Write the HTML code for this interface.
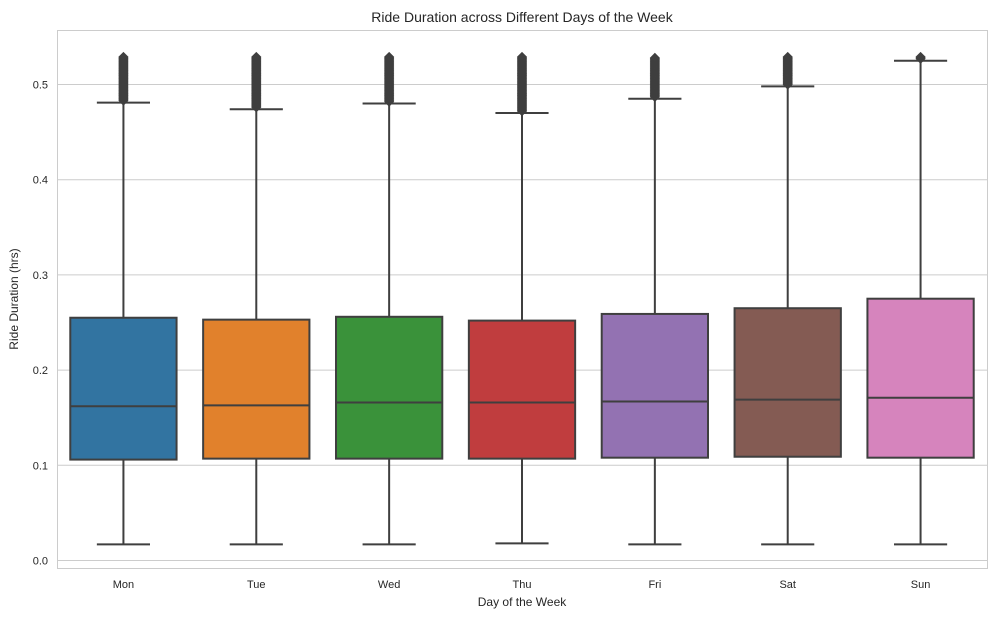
<!DOCTYPE html>
<html><head><meta charset="utf-8">
<style>
body{margin:0;background:#fff;font-family:"Liberation Sans",sans-serif;}
svg text{font-family:"Liberation Sans",sans-serif;fill:#262626;}
</style></head>
<body>
<svg id="chart" width="997" height="619" xmlns="http://www.w3.org/2000/svg">
<text x="522" y="22" font-size="14" text-anchor="middle">Ride Duration across Different Days of the Week</text>
<text x="522" y="606" font-size="12" text-anchor="middle">Day of the Week</text>
<text transform="translate(18,299) rotate(-90)" font-size="12" text-anchor="middle">Ride Duration (hrs)</text>
<g id="grid"></g>
<rect x="57.5" y="30.5" width="930" height="538" fill="none" stroke="#ccc" stroke-width="1"/>
<g id="marks"></g>
</svg>
<script>
const categories=["Mon","Tue","Wed","Thu","Fri","Sat","Sun"];
const whiskerLow=[0.017,0.017,0.017,0.018,0.017,0.017,0.017];
const q1=[0.106,0.107,0.107,0.107,0.108,0.109,0.108];
const median=[0.162,0.163,0.166,0.166,0.167,0.169,0.171];
const q3=[0.255,0.253,0.256,0.252,0.259,0.265,0.275];
const whiskerHigh=[0.481,0.474,0.480,0.470,0.485,0.498,0.525];
const outlierMax=[0.529,0.529,0.529,0.529,0.528,0.529,0.529];
const yTicks=[0,0.1,0.2,0.3,0.4,0.5];
const yTickLabels=["0.0","0.1","0.2","0.3","0.4","0.5"];
const colors=["#3274a1","#e1812c","#3a923a","#c03d3e","#9372b2","#845b53","#d684bd"];

const NS="http://www.w3.org/2000/svg";
const x0=57,x1=987,band=(x1-x0)/categories.length;
function xc(i){return x0+band*(i+0.5);}
function y(v){return 560.5-v*952;}
function mk(tag,attrs,parent){const e=document.createElementNS(NS,tag);for(const k in attrs)e.setAttribute(k,attrs[k]);parent.appendChild(e);return e;}
const grid=document.getElementById('grid'),marks=document.getElementById('marks');
yTicks.forEach((t,i)=>{
  const l=mk('line',{x1:x0,x2:x1,y1:y(t),y2:y(t),stroke:'#ccc','stroke-width':1},grid);
  
  
  const tx=mk('text',{x:48,y:y(t)+4,'font-size':11,'text-anchor':'end'},grid);
  tx.textContent=yTickLabels[i];
  
  
});
const bw=band*0.8,lc='#3f3f3f';
categories.forEach((c,i)=>{
  const cx=xc(i);
  const g=mk('g',{},marks);
  
  
  mk('line',{x1:cx,x2:cx,y1:y(whiskerLow[i]),y2:y(q1[i]),stroke:lc,'stroke-width':2},g);
  mk('line',{x1:cx,x2:cx,y1:y(q3[i]),y2:y(whiskerHigh[i]),stroke:lc,'stroke-width':2},g);
  mk('line',{x1:cx-bw/4,x2:cx+bw/4,y1:y(whiskerLow[i]),y2:y(whiskerLow[i]),stroke:lc,'stroke-width':2},g);
  mk('line',{x1:cx-bw/4,x2:cx+bw/4,y1:y(whiskerHigh[i]),y2:y(whiskerHigh[i]),stroke:lc,'stroke-width':2},g);
  mk('rect',{x:cx-bw/2,y:y(q3[i]),width:bw,height:y(q1[i])-y(q3[i]),fill:colors[i],stroke:lc,'stroke-width':2},g);
  mk('line',{x1:cx-bw/2,x2:cx+bw/2,y1:y(median[i]),y2:y(median[i]),stroke:lc,'stroke-width':2},g);
  for(let v=whiskerHigh[i]+0.002;v<=outlierMax[i]+0.0001;v+=0.001){
    const py=y(v);
    const d=mk('path',{d:`M${cx},${py-4.5}L${cx+4.5},${py}L${cx},${py+4.5}L${cx-4.5},${py}Z`,fill:lc,stroke:lc,'stroke-width':0.8},g);
    
    
  }
  const tx=mk('text',{x:cx,y:588,'font-size':11,'text-anchor':'middle'},marks);
  tx.textContent=c;
  
  
});
</script>
</body></html>
